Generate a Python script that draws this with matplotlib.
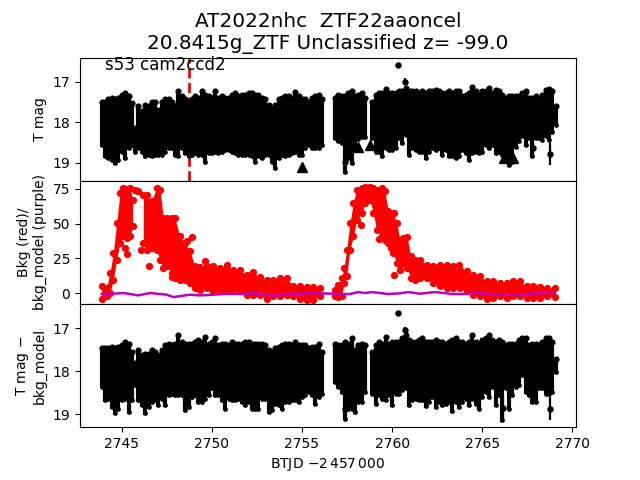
import numpy as np
import matplotlib
matplotlib.use("Agg")
import matplotlib.pyplot as plt

title = "AT2022nhc  ZTF22aaoncel\n20.8415g_ZTF Unclassified z= -99.0"
sector_label = "s53 cam2ccd2"
event_time = 2748.72

t_seg1 = [2743.90,2744.08,2744.27,2744.45,2744.64,2744.82,2745.01,2745.19,2745.38,2745.56,2745.75,2745.93,2746.12,2746.30,2746.49,2746.67,2746.86,2747.04,2747.23,2747.41,2747.60,2747.78,2747.97,2748.15,2748.34,2748.52,2748.71,2748.89,2749.08,2749.26,2749.45,2749.63,2749.82,2750.00,2750.19,2750.37,2750.56,2750.74,2750.93,2751.11,2751.30,2751.48,2751.67,2751.85,2752.04,2752.22,2752.41,2752.59,2752.78,2752.96,2753.15,2753.33,2753.52,2753.70,2753.89,2754.07,2754.26,2754.44,2754.63,2754.81,2755.00,2755.18,2755.37,2755.55,2755.74,2755.92,2756.11]
t_seg2 = [2756.83,2757.02,2757.20,2757.39,2757.57,2757.76,2757.94,2758.13,2758.31,2758.50]
t_seg3 = [2758.90,2759.09,2759.27,2759.46,2759.64,2759.83,2760.01,2760.20,2760.38,2760.57,2760.75,2760.94,2761.12,2761.31,2761.49,2761.68,2761.86,2762.05,2762.23,2762.42,2762.60,2762.79,2762.97,2763.16,2763.34,2763.53,2763.71,2763.90,2764.08,2764.27,2764.45,2764.64,2764.82,2765.01,2765.19,2765.38,2765.56,2765.75,2765.93,2766.12,2766.30,2766.49,2766.67,2766.86,2767.04,2767.23,2767.41,2767.60,2767.78,2767.97,2768.15,2768.34,2768.52,2768.71,2768.89,2769.08]

# Top panel: bright / faint edge of the magnitude band
mag_bright = [17.49,17.49,17.44,17.40,17.44,17.40,17.32,17.28,17.36,17.53,18.14,17.61,17.73,17.57,17.61,17.49,17.49,17.69,17.49,17.44,17.43,17.49,17.61,17.24,17.36,17.44,17.49,17.44,17.36,17.40,17.24,17.32,17.36,17.40,17.24,17.40,17.36,17.40,17.40,17.32,17.28,17.36,17.32,17.32,17.28,17.28,17.32,17.32,17.40,17.44,17.57,17.65,17.57,17.44,17.40,17.36,17.36,17.44,17.26,17.36,17.44,17.44,17.49,17.40,17.36,17.32,17.44,
              17.40,17.32,17.36,17.36,17.28,17.24,17.36,17.32,17.28,17.40,
              17.49,17.32,17.28,17.28,17.18,17.28,17.28,17.28,17.24,17.24,17.16,17.24,17.24,17.24,17.28,17.24,17.28,17.24,17.24,17.20,17.24,17.28,17.28,17.24,17.28,17.24,17.24,17.36,17.32,17.28,17.13,17.24,17.32,17.24,17.24,17.16,17.28,17.20,17.24,17.32,17.40,17.36,17.36,17.36,17.36,17.28,17.24,17.40,17.40,17.36,17.44,17.32,17.20,17.18,17.24,17.61]
mag_faint = [18.60,18.88,18.93,18.97,19.05,18.97,18.76,18.93,18.68,18.60,18.76,18.68,18.76,18.88,18.84,18.88,18.84,18.84,18.84,18.76,18.68,18.68,18.84,18.88,18.68,18.80,18.88,18.84,18.80,18.84,18.84,19.01,18.80,18.80,18.76,18.80,18.76,18.72,18.72,18.76,18.80,18.84,18.84,18.84,18.84,18.88,19.01,18.88,18.93,18.84,18.84,19.01,19.17,18.93,18.84,18.88,18.84,18.80,18.76,18.84,18.84,18.68,18.60,18.68,18.68,18.68,18.60,
             18.43,18.51,18.56,19.27,18.93,19.05,18.70,18.45,18.40,18.40,
             18.43,18.76,18.76,18.88,18.68,18.72,18.72,18.68,18.43,18.56,18.35,18.84,18.68,18.72,18.76,18.76,18.93,18.76,18.68,18.72,18.68,18.84,18.72,18.88,18.88,18.93,18.88,18.72,18.80,18.97,18.80,18.76,18.80,18.76,18.60,18.68,18.60,18.80,18.76,18.84,18.97,19.09,19.01,18.64,18.51,18.39,18.60,18.43,18.88,18.43,18.43,18.47,18.39,18.47,18.27,18.10]
extra_t = [2760.34,2760.73,2768.75,2757.39,2767.79,2767.37]
extra_mag = [16.59,17.00,18.78,18.97,18.64,17.27]
extra_low = [16.59,16.92,18.51,18.80,18.43,17.27]
extra_high = [16.59,17.08,19.05,19.27,18.88,17.27]
limit_t = [2755.00,2758.10,2758.77,2766.20,2766.70]
limit_mag = [19.11,18.62,18.56,18.87,18.87]

# Bottom panel: background-subtracted band
sub_bright = [17.47,17.47,17.47,17.43,17.47,17.43,17.40,17.32,17.36,17.55,17.82,17.51,17.63,17.59,17.59,17.51,17.55,17.63,17.51,17.40,17.36,17.40,17.36,17.16,17.32,17.36,17.36,17.36,17.32,17.28,17.32,17.20,17.36,17.32,17.24,17.40,17.36,17.36,17.40,17.32,17.36,17.36,17.36,17.32,17.32,17.36,17.36,17.36,17.36,17.40,17.51,17.55,17.47,17.43,17.40,17.36,17.36,17.40,17.32,17.40,17.40,17.40,17.47,17.43,17.43,17.36,17.55,
              17.36,17.40,17.40,17.32,17.36,17.24,17.51,17.40,17.36,17.40,
              17.55,17.40,17.32,17.36,17.20,17.36,17.32,17.32,17.32,17.24,17.16,17.28,17.32,17.32,17.28,17.24,17.32,17.32,17.32,17.28,17.32,17.32,17.36,17.32,17.28,17.24,17.32,17.32,17.36,17.32,17.16,17.32,17.36,17.28,17.24,17.16,17.28,17.32,17.28,17.32,17.40,17.36,17.36,17.36,17.28,17.24,17.24,17.40,17.36,17.36,17.40,17.32,17.24,17.24,17.32,17.71]
sub_faint = [18.40,18.71,18.68,18.87,19.01,18.91,18.71,18.68,18.99,18.71,18.37,18.71,18.83,19.02,18.87,18.75,18.71,18.83,18.68,18.83,18.60,18.56,18.60,18.60,18.60,18.95,18.87,18.64,18.60,18.75,18.75,18.68,18.60,18.44,18.60,18.60,18.71,18.91,18.68,18.71,18.71,18.68,18.75,18.83,18.75,18.91,18.91,18.91,18.68,18.68,18.99,18.95,18.79,18.83,18.91,18.75,18.75,18.71,18.71,18.75,18.64,18.60,18.52,18.60,18.79,18.64,18.56,
             18.29,18.40,18.52,19.14,18.91,18.91,18.99,18.75,18.75,18.52,
             18.56,18.79,18.60,18.68,18.71,18.60,18.83,18.56,18.56,18.48,18.44,18.83,18.71,18.68,18.71,18.71,18.85,18.75,18.64,18.87,18.75,18.83,18.79,18.75,18.97,18.75,18.87,18.75,18.68,18.83,18.68,18.79,18.91,18.64,18.52,18.64,18.40,18.83,18.60,19.18,18.44,18.91,18.60,18.40,18.37,18.13,18.52,18.60,18.75,18.75,18.44,18.44,18.56,18.56,18.52,18.06]
sub_extra_t = [2760.34,2760.73,2768.75,2766.17,2757.39]
sub_extra_mag = [16.64,17.05,18.87,18.85,18.87]
sub_extra_low = [16.64,16.98,18.60,18.60,18.70]
sub_extra_high = [16.64,17.12,19.14,19.18,19.14]

# Middle panel: background band pieces
bkg_t_a = [2743.89,2744.17,2744.35,2744.54,2744.72,2744.91,2745.09,2745.28,2745.46,2745.61]
bkg_hi_a = [4.8,3.6,14.4,28.8,50.4,72.0,75.5,75.0,76.0,67.0]
bkg_lo_a = [-4.3,-2.4,0.0,9.6,24.0,36.0,40.8,39.6,40.8,48.0]
bkg_t_b = [2746.20,2746.39,2746.66,2746.94,2747.13,2747.31,2747.53,2747.77,2747.96,2748.23,2748.51,2748.79,2749.07,2749.34,2749.71,2750.08,2750.45,2750.82,2751.19,2751.56,2751.93,2752.30,2752.67,2753.04,2753.41,2753.78,2754.15,2754.52,2754.89,2755.26,2755.63,2756.00]
bkg_hi_b = [70.8,70.8,66.0,76.0,74.4,54.0,54.0,54.0,54.0,40.8,36.0,30.0,19.2,18.7,19.2,19.2,18.0,20.4,16.3,16.3,13.2,12.0,11.5,9.6,9.6,10.8,10.8,4.8,4.8,4.3,4.3,3.6]
bkg_lo_b = [36.0,31.2,32.4,31.2,24.0,18.0,19.2,14.4,10.8,9.6,9.6,7.2,3.6,2.4,3.6,1.2,1.2,1.2,2.4,1.2,-1.2,-1.2,-1.2,-4.3,-2.4,-2.4,-1.2,-2.4,-4.3,-4.8,-4.8,-2.4]
bkg_t_c = [2756.83,2757.02,2757.20,2757.33,2757.48,2757.66,2757.85,2758.03,2758.31,2758.50,2758.77,2758.96,2759.14,2759.42,2759.60,2759.79,2760.07,2760.25,2760.44,2760.62,2760.84,2761.03,2761.27,2761.55,2761.91,2762.28,2762.65,2763.02,2763.39,2763.76,2764.13,2764.50,2764.87,2765.24,2765.61,2765.98,2766.35,2766.72,2767.09,2767.46,2767.83,2768.20,2768.57,2769.03]
bkg_hi_c = [2.4,6.0,10.8,18.0,31.2,50.4,64.8,74.4,76.0,76.5,76.5,76.0,74.4,76.0,73.2,58.8,57.6,50.4,38.4,39.6,40.3,26.4,24.0,24.0,20.4,19.2,20.4,20.4,19.2,16.8,15.6,13.2,12.0,8.4,8.4,7.2,7.2,8.4,8.4,4.8,4.8,4.3,3.6,3.6]
bkg_lo_c = [-2.4,-2.9,-2.4,7.2,12.0,31.2,40.8,52.8,57.6,64.8,67.2,57.6,45.6,40.8,38.4,36.0,28.8,21.6,20.4,21.6,18.0,10.8,9.6,10.8,10.8,7.2,4.8,3.6,3.6,3.6,1.2,-1.2,-2.4,-4.3,-3.6,-2.4,-3.6,-2.4,-2.4,-3.6,-3.6,-3.6,-2.4,-2.9]
bkg_out_t = [2745.20,2745.31,2745.74,2745.83,2745.92,2746.05,2746.53,2748.60,2748.88,2749.64,2752.30,2747.81,2760.12,2760.10,2760.45,2759.94,2758.26,2759.29,2763.73]
bkg_out_v = [32.4,28.3,74.4,73.5,73.2,31.2,19.7,37.7,40.3,23.3,15.1,11.5,57.6,12.7,16.8,32.4,49.2,38.9,19.9]

model_t = [2743.89,2744.54,2745.09,2745.46,2745.92,2746.57,2747.13,2747.50,2747.87,2748.42,2748.79,2749.34,2750.08,2750.82,2751.74,2752.11,2752.67,2753.41,2754.15,2754.89,2755.63,2756.00,2756.74,2757.29,2757.66,2758.13,2758.50,2758.87,2759.33,2759.79,2760.44,2760.90,2761.55,2762.38,2763.39,2764.13,2764.60,2765.06,2766.17,2767.46,2768.57,2769.03]
model_v = [-0.7,-0.5,0.0,-0.7,-1.7,0.0,-0.7,-1.2,-2.9,-1.9,-1.2,-1.7,-1.2,-0.5,-0.7,0.0,-0.5,-1.9,-0.7,-0.5,0.0,-0.2,-0.5,-0.7,-0.7,0.7,0.0,0.7,0.0,-0.7,-0.2,0.7,-0.5,0.7,-0.7,-0.7,0.5,-0.7,-1.2,-0.7,0.2,0.0]

mag_ticks = [17, 18, 19]
bkg_ticks = [0, 25, 50, 75]
x_ticks = [2745, 2750, 2755, 2760, 2765, 2770]

times = np.array(t_seg1 + t_seg2 + t_seg3)


def draw_band(ax, t, bright, faint, ext, emag, elow, ehigh):
    bright, faint = np.array(bright), np.array(faint)
    ax.vlines(t, bright, faint, colors="k", lw=3.0, zorder=2)
    ax.plot(t, bright, "o", color="k", ms=3.4, zorder=2)
    ax.plot(t, faint - 0.04, "o", color="k", ms=2.4, zorder=2)
    ax.vlines(ext, elow, ehigh, colors="k", lw=1.6, zorder=2)
    ax.plot(ext, emag, "o", color="k", ms=3.6, zorder=2)


fig, axes = plt.subplots(3, 1, sharex=True, figsize=(6.4, 4.8), dpi=100)
fig.subplots_adjust(hspace=0)
ax1, ax2, ax3 = axes

ax1.axvline(event_time, color="r", ls="--", lw=2, zorder=1)
draw_band(ax1, times, mag_bright, mag_faint, extra_t, extra_mag, extra_low, extra_high)
ax1.plot(limit_t, limit_mag, "^", color="k", ms=7, zorder=3)
ax1.set_ylim(19.44, 16.41)
ax1.set_yticks(mag_ticks)
ax1.set_ylabel("T mag", fontsize=10)
ax1.text(2744.05, 16.6, sector_label, fontsize=12, va="center", ha="left")

for t, hi, lo in [(bkg_t_a, bkg_hi_a, bkg_lo_a), (bkg_t_b, bkg_hi_b, bkg_lo_b), (bkg_t_c, bkg_hi_c, bkg_lo_c)]:
    ax2.fill_between(t, lo, hi, color="r", lw=0, zorder=2)
    ax2.plot(t, hi, "o", color="r", ms=4.2, zorder=2)
    ax2.plot(t, lo, "o", color="r", ms=4.2, zorder=2)
ax2.plot(bkg_out_t, bkg_out_v, "o", color="r", ms=4.2, zorder=2)
ax2.plot(model_t, model_v, "-", color="#bf00bf", lw=1.8, zorder=3)
ax2.set_ylim(-7.9, 80.9)
ax2.set_yticks(bkg_ticks)
ax2.set_ylabel("Bkg (red)/\nbkg_model (purple)", fontsize=10)

draw_band(ax3, times, sub_bright, sub_faint, sub_extra_t, sub_extra_mag, sub_extra_low, sub_extra_high)
ax3.set_ylim(19.3, 16.44)
ax3.set_yticks(mag_ticks)
ax3.set_ylabel("T mag $-$\nbkg_model", fontsize=10)
ax3.set_xlim(2742.69, 2770.2)
ax3.set_xticks(x_ticks)
ax3.set_xticklabels([str(v) for v in x_ticks])
ax3.set_xlabel("BTJD $-2\\,457\\,000$", fontsize=10)

for ax in (ax1, ax2):
    ax.tick_params(axis="x", bottom=False, labelbottom=False)

fig.suptitle(title, fontsize=14.4, x=0.5125, y=0.976)
fig.savefig("out.png", dpi=100)
